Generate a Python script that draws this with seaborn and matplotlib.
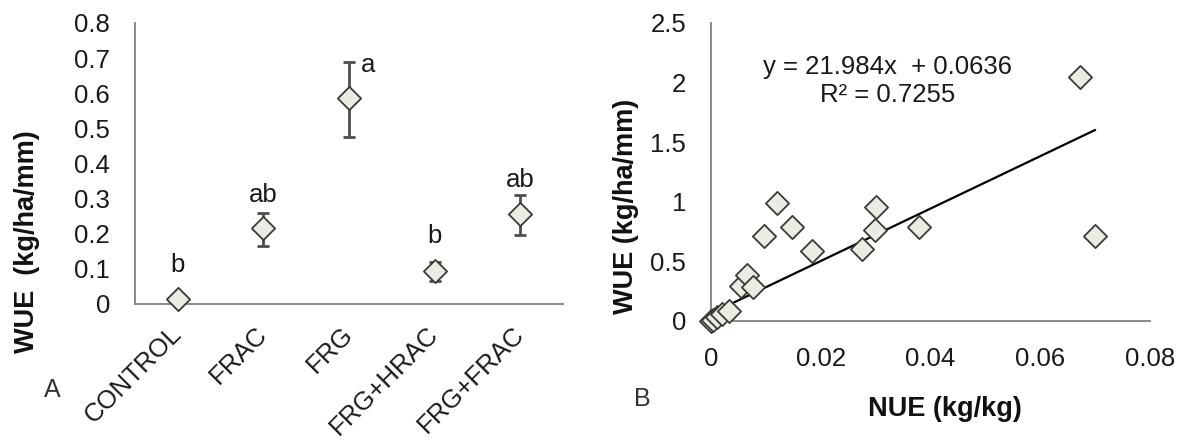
import numpy as np
import pandas as pd
import matplotlib
matplotlib.use("Agg")
import matplotlib.pyplot as plt
import seaborn as sns

# ---- Panel A data ----
treatments = ["CONTROL", "FRAC", "FRG", "FRG+HRAC", "FRG+FRAC"]
wue_mean = [0.015, 0.215, 0.585, 0.095, 0.255]
wue_low = [0.015, 0.165, 0.475, 0.065, 0.195]
wue_high = [0.015, 0.260, 0.690, 0.120, 0.310]
letters = ["b", "ab", "a", "b", "ab"]
letter_y = [0.090, 0.290, 0.660, 0.174, 0.333]
a_yticks = [0, 0.1, 0.2, 0.3, 0.4, 0.5, 0.6, 0.7, 0.8]
a_yticklabels = ["0", "0.1", "0.2", "0.3", "0.4", "0.5", "0.6", "0.7", "0.8"]

# ---- Panel B data ----
nue = [0.0, 0.0003, 0.0011, 0.0020, 0.0032, 0.0054, 0.0066, 0.0077, 0.0096,
       0.0120, 0.0147, 0.0184, 0.0275, 0.0299, 0.0300, 0.0379, 0.0673, 0.0699]
wue = [0.0, 0.010, 0.035, 0.060, 0.085, 0.290, 0.385, 0.285, 0.710,
       0.990, 0.790, 0.590, 0.600, 0.760, 0.960, 0.790, 2.050, 0.710]
slope = 21.984
intercept = 0.0636
r2 = 0.7255
fit_x = [0.0, 0.0700]
b_xticks = [0, 0.02, 0.04, 0.06, 0.08]
b_xticklabels = ["0", "0.02", "0.04", "0.06", "0.08"]
b_yticks = [0, 0.5, 1, 1.5, 2, 2.5]
b_yticklabels = ["0", "0.5", "1", "1.5", "2", "2.5"]

sns.set_style("white")
plt.rcParams["font.family"] = ["Liberation Sans", "DejaVu Sans"]

TXT = "#1a1a1a"
SPINE = "#8a8a8a"
FILL = "#ecebe2"
EDGE = "#3a3a3a"
FS = 18.5

fig = plt.figure(figsize=(11.77, 4.45), dpi=100)
axA = fig.add_axes([0.1147, 0.3169, 0.3636, 0.6315])
axB = fig.add_axes([0.6041, 0.2787, 0.3730, 0.6697])

def style(ax):
    for s in ["top", "right"]:
        ax.spines[s].set_visible(False)
    for s in ["left", "bottom"]:
        ax.spines[s].set_color(SPINE)
        ax.spines[s].set_linewidth(1.4)
    ax.tick_params(which="major", direction="out", length=8, width=1.4,
                   color=SPINE, labelsize=FS, labelcolor=TXT)
    ax.grid(False)

# ---- Panel A ----
dfA = pd.DataFrame({"treatment": treatments, "wue": wue_mean})
pos = np.arange(len(treatments))
mean = np.array(wue_mean)
err = [mean - np.array(wue_low), np.array(wue_high) - mean]
axA.errorbar(pos, mean, yerr=err, fmt="none", ecolor="#4e4e4e",
             elinewidth=2.0, capsize=4.5, capthick=2.0, zorder=2)
sns.scatterplot(data=dfA, x="treatment", y="wue", marker="D", s=140,
                color=FILL, edgecolor=EDGE, linewidth=1.3, ax=axA,
                zorder=3, clip_on=False, legend=False)
style(axA)
axA.set_xlim(-0.5, len(treatments) - 0.5)
axA.set_ylim(0, 0.8)
axA.set_yticks(a_yticks)
axA.set_yticklabels(a_yticklabels)
axA.tick_params(axis="y", pad=10)
axA.set_xticks(np.arange(-0.5, len(treatments), 1.0))
axA.set_xticklabels([])
axA.set_xticks(pos, minor=True)
axA.set_xticklabels(treatments, minor=True, rotation=45, ha="right",
                    va="center", rotation_mode="anchor")
axA.tick_params(axis="x", which="minor", length=0, pad=19,
                labelsize=18.5, labelcolor=TXT)
axA.tick_params(axis="x", which="major", length=9)
axA.set_xlabel("")
axA.set_ylabel("")
for i, (lt, ly) in enumerate(zip(letters, letter_y)):
    dx = 0.22 if lt == "a" else 0.0
    axA.text(i + dx, ly, lt, ha="center", va="baseline", fontsize=FS, color=TXT)

fig.text(0.0229, 0.456, "WUE  (kg/ha/mm)", rotation=90, ha="center",
         va="center", fontsize=19.5, fontweight="bold", color="#111111")
fig.text(0.0442, 0.124, "A", ha="center", va="center", fontsize=18,
         color="#333333")

# ---- Panel B ----
dfB = pd.DataFrame({"NUE": nue, "WUE": wue})
sns.scatterplot(data=dfB, x="NUE", y="WUE", marker="D", s=140, color=FILL,
                edgecolor=EDGE, linewidth=1.3, ax=axB, zorder=3,
                clip_on=False, legend=False)
fx = np.array(fit_x)
sns.lineplot(x=fx, y=slope * fx + intercept, color="black", linewidth=1.6,
             ax=axB, zorder=2)
style(axB)
axB.set_xlim(0, 0.08)
axB.set_ylim(0, 2.5)
axB.set_xticks(b_xticks)
axB.set_xticklabels(b_xticklabels)
axB.set_yticks(b_yticks)
axB.set_yticklabels(b_yticklabels)
axB.tick_params(axis="x", length=9, pad=10)
axB.tick_params(axis="y", pad=10)
axB.set_xlabel("")
axB.set_ylabel("")
axB.text(0.401, 0.852, f"y = {slope}x  + {intercept}", transform=axB.transAxes,
         ha="center", va="center", fontsize=FS, color=TXT)
axB.text(0.403, 0.757, f"R² = {r2}", transform=axB.transAxes,
         ha="center", va="center", fontsize=FS, color=TXT)

fig.text(0.532, 0.537, "WUE (kg/ha/mm)", rotation=90, ha="center",
         va="center", fontsize=19.5, fontweight="bold", color="#111111")
fig.text(0.803, 0.081, "NUE (kg/kg)", ha="center", va="center",
         fontsize=19.5, fontweight="bold", color="#111111")
fig.text(0.546, 0.103, "B", ha="center", va="center", fontsize=18,
         color="#333333")

fig.savefig("out.png", dpi=100)
